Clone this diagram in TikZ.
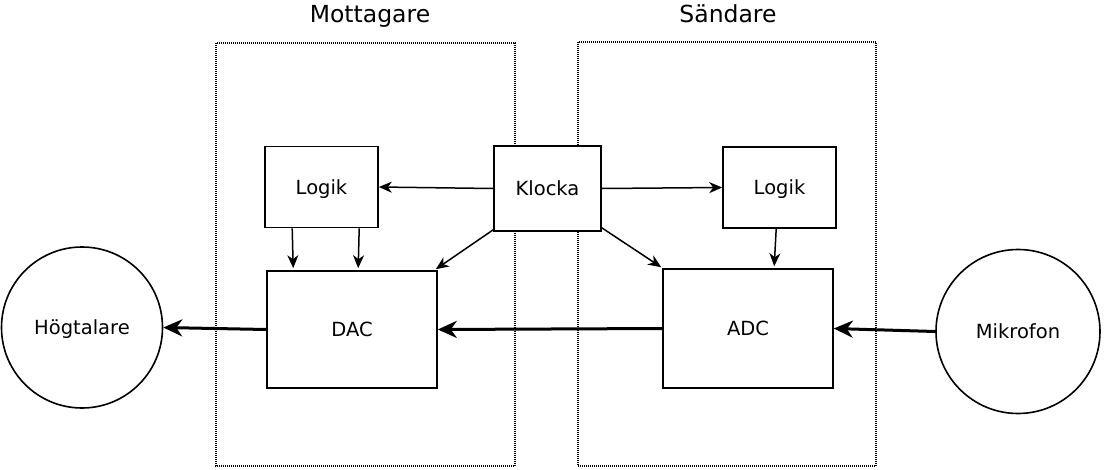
\documentclass[tikz,border=0pt]{standalone}
\usepackage{fontspec}
\setmainfont{DejaVu Sans}
\usetikzlibrary{arrows.meta,calc}
\begin{document}
\begin{tikzpicture}[x=1pt,y=-1pt,
  blk/.style={draw,line width=1.6pt,inner sep=0pt,text height=14.2pt,text depth=0pt,font=\fontsize{19.5}{22}\selectfont},
  circ/.style={draw,circle,line width=1.6pt,inner sep=0pt,text height=14.2pt,text depth=0pt,minimum size=161pt,font=\fontsize{19.5}{22}\selectfont},
  grp/.style={draw,line width=1.3pt,dash pattern=on 1pt off 1pt},
  thin/.style={line width=1.5pt,-{Stealth[length=13pt,width=11pt,inset=4pt]}},
  thick/.style={line width=3pt,-{Stealth[length=19pt,width=17pt,inset=6pt]}},
  lbl/.style={font=\fontsize{23.5}{26}\selectfont}]
\useasboundingbox (0,0) rectangle (1104,469);
% groups
\draw[grp] (216,43) rectangle (515,466);
\draw[grp] (578,42) rectangle (876,466);
\node[lbl] (tm) at (370,16) {Mottagare};
\node[lbl] (ts) at (728,14) {Sändare};
% blocks
\node[blk,fill=white,minimum width=113pt,minimum height=81pt] (logL) at (321.5,187) {Logik};
\node[blk,fill=white,minimum width=107pt,minimum height=85pt] (klk) at (547.5,188.5) {Klocka};
\node[blk,fill=white,minimum width=113pt,minimum height=81pt] (logR) at (779.5,187.5) {Logik};
\node[blk,fill=white,minimum width=170pt,minimum height=117pt] (dac) at (352,329.5) {DAC};
\node[blk,fill=white,minimum width=170pt,minimum height=119pt] (adc) at (748,328.5) {ADC};
\node[circ] (hog) at (82,327.5) {Högtalare};
\node[circ,minimum size=164pt] (mik) at (1018,331.5) {Mikrofon};
% connectors
\draw[thin] (klk.west) -- (logL.east);
\draw[thin] (klk.east) -- (logR.west);
\draw[thin] ([yshift=2pt]klk.south west) -- ([yshift=1pt,xshift=-2pt]dac.north east);
\draw[thin] ([yshift=4pt]klk.south east) -- ([yshift=1pt,xshift=-1pt]adc.north west);
\draw[thin] ([xshift=28pt]logL.south west) -- ([xshift=27pt,yshift=2pt]dac.north west);
\draw[thin] ([xshift=95pt]logL.south west) -- ([xshift=92pt,yshift=2pt]dac.north west);
\draw[thin] ([xshift=54pt]logR.south west) -- ([xshift=112pt,yshift=2pt]adc.north west);
\draw[thick] (dac.west) -- (hog.east);
\draw[thick] (adc.west) -- (dac.east);
\draw[thick] (mik.west) -- (adc.east);
\end{tikzpicture}
\end{document}
